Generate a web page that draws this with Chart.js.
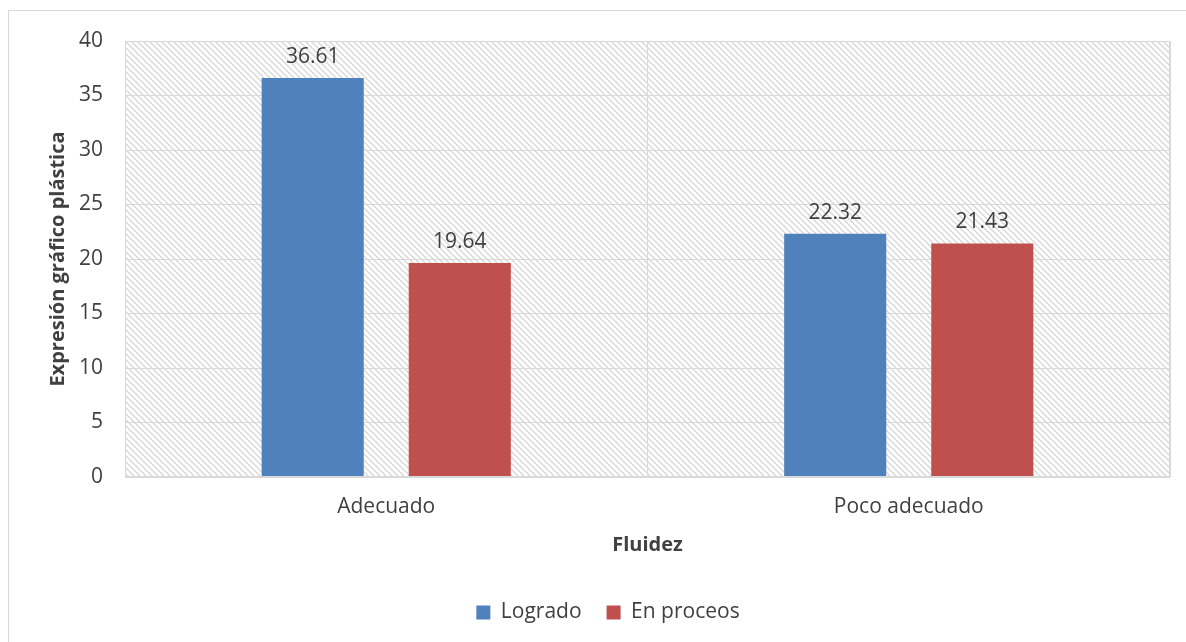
<!DOCTYPE html>
<html>
<head>
<meta charset="utf-8">
<script src="https://cdn.jsdelivr.net/npm/chart.js@4.4.1/dist/chart.umd.min.js"></script>
<style>
  html, body { margin: 0; padding: 0; background: #fff; }
  #wrap { width: 1186px; height: 642px; position: relative; }
</style>
</head>
<body>
<div id="wrap"><canvas id="chart"></canvas></div>
<script>
// datos del gráfico
const categories = ["Adecuado", "Poco adecuado"];
const seriesNames = ["Logrado", "En proceos"];
const logrado = [36.61, 22.32];
const enProceso = [19.64, 21.43];
const yTicks = [0, 5, 10, 15, 20, 25, 30, 35, 40];

const FONT = "'Open Sans', 'Noto Sans', sans-serif";
const FS = 21;

// trama diagonal del área de trazado
function makeHatch(ctx) {
  const c = document.createElement("canvas");
  c.width = 6; c.height = 6;
  const g = c.getContext("2d");
  g.fillStyle = "#ffffff";
  g.fillRect(0, 0, 6, 6);
  g.strokeStyle = "#d6d6d6";
  g.lineWidth = 1.3;
  g.beginPath();
  g.moveTo(-1, -1); g.lineTo(7, 7);
  g.moveTo(-1, 5); g.lineTo(1, 7);
  g.moveTo(5, -1); g.lineTo(7, 1);
  g.stroke();
  return ctx.createPattern(c, "repeat");
}

const backgroundPlugin = {
  id: "fondo",
  beforeDraw(chart) {
    const { ctx, chartArea: a } = chart;
    ctx.save();
    ctx.fillStyle = "#fff";
    ctx.fillRect(0, 0, chart.width, chart.height);
    ctx.strokeStyle = "#d9d9d9";
    ctx.lineWidth = 1;
    ctx.strokeRect(8.5, 10.5, chart.width + 10, chart.height + 10);
    ctx.fillStyle = makeHatch(ctx);
    ctx.fillRect(a.left, a.top, a.right - a.left, a.bottom - a.top);
    ctx.restore();
  },
  afterDatasetsDraw(chart) {
    const { ctx, chartArea: a } = chart;
    ctx.save();
    ctx.strokeStyle = "#d9d9d9";
    ctx.lineWidth = 1;
    ctx.strokeRect(a.left + 0.5, a.top + 0.5, a.right - a.left - 1, a.bottom - a.top - 1);
    // etiquetas de valor
    ctx.fillStyle = "#404040";
    ctx.font = FS + "px " + FONT;
    ctx.textAlign = "center";
    ctx.textBaseline = "middle";
    chart.data.datasets.forEach((ds, i) => {
      chart.getDatasetMeta(i).data.forEach((bar, j) => {
        ctx.fillText(ds.data[j].toFixed(2), bar.x, bar.y - 21);
      });
    });
    ctx.restore();
  }
};

new Chart(document.getElementById("chart"), {
  type: "bar",
  data: {
    labels: categories,
    datasets: [
      { label: seriesNames[0], data: logrado, backgroundColor: "#4F81BD" },
      { label: seriesNames[1], data: enProceso, backgroundColor: "#C0504D" }
    ]
  },
  options: {
    responsive: true,
    maintainAspectRatio: false,
    animation: false,
    categoryPercentage: 0.563,
    barPercentage: 0.694,
    layout: { padding: { left: 46, right: 16, top: 41, bottom: 9 } },
    scales: {
      x: {
        afterFit(scale) { scale.height = 100; },
        grid: { color: "#d9d9d9", offset: true, drawTicks: false },
        border: { display: false },
        ticks: { color: "#404040", font: { family: FONT, size: FS }, padding: 17 },
        title: { display: true, text: "Fluidez", color: "#404040", font: { family: FONT, size: FS - 1, weight: "bold" }, padding: { top: 0, bottom: 20 } }
      },
      y: {
        min: 0, max: 40,
        afterBuildTicks(scale) { scale.ticks = yTicks.map(v => ({ value: v })); },
        afterFit(scale) { scale.width = 79; },
        grid: { color: "#d9d9d9", drawTicks: false },
        border: { display: false },
        ticks: { color: "#404040", font: { family: FONT, size: FS }, padding: 22 },
        title: { display: true, text: "Expresión gráfico plástica", color: "#404040", font: { family: FONT, size: FS - 1, weight: "bold" }, padding: { top: 0, bottom: 0 } }
      }
    },
    plugins: {
      legend: {
        position: "bottom",
        labels: { color: "#404040", font: { family: FONT, size: FS }, boxWidth: 14, boxHeight: 14, padding: 25 }
      },
      tooltip: { enabled: false }
    }
  },
  plugins: [backgroundPlugin]
});
</script>
</body>
</html>
